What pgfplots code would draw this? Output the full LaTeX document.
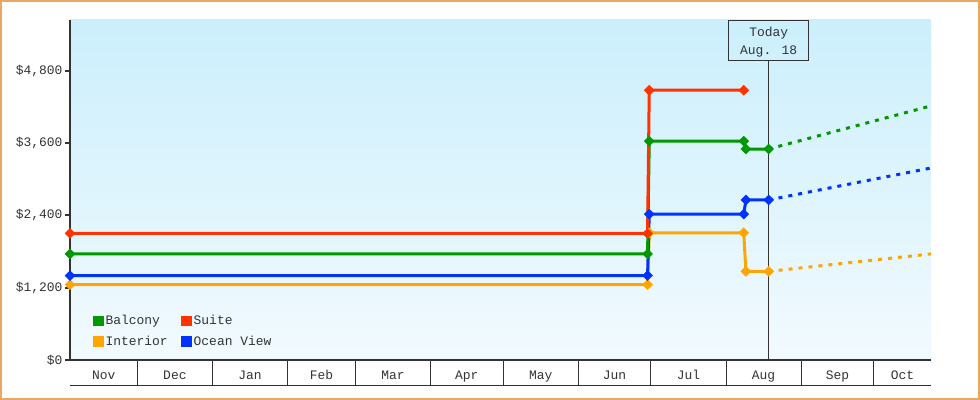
\documentclass[border=0pt]{standalone}
\usepackage{pgfplots}
\pgfplotsset{compat=1.18}
\usepackage{fontspec}
\setmainfont{Liberation Mono}
\definecolor{cgreen}{RGB}{0,153,0}
\definecolor{cred}{RGB}{255,51,0}
\definecolor{corange}{RGB}{255,165,0}
\definecolor{cblue}{RGB}{0,51,255}
\definecolor{txt}{RGB}{51,51,51}
\definecolor{framec}{RGB}{232,168,96}
\definecolor{bgtop}{RGB}{203,239,252}
\definecolor{bgbot}{RGB}{242,250,254}
\newcommand{\tf}{\fontsize{13}{18}\selectfont}
\begin{document}
\begin{tikzpicture}
\useasboundingbox (0,0) rectangle (980bp,400bp);
\draw[framec, line width=2bp] (1bp,1bp) rectangle (979bp,399bp);
\begin{axis}[
  at={(70bp,40bp)}, anchor=south west,
  scale only axis, width=861bp, height=340bp,
  xmin=2.2, xmax=357.6, ymin=0, ymax=5640,
  clip=false,
  axis background/.style={top color=bgtop, bottom color=bgbot},
  axis x line*=bottom, axis y line*=left,
  x axis line style={txt, line width=1.5bp},
  y axis line style={txt, line width=2.2bp},
  tick align=outside,
  major tick length=5bp, minor tick length=25bp,
  ytick={0,1200,2400,3600,4800},
  yticklabels={{\$0},{\$1,200},{\$2,400},{\$3,600},{\$4,800}},
  y tick style={txt, line width=2bp},
  xtick={16.1,45.5,76.5,106,135.5,166,196.5,227,257.5,288.5,319,345.8},
  xticklabels={Nov,Dec,Jan,Feb,Mar,Apr,May,Jun,Jul,Aug,Sep,Oct},
  minor xtick={30,61,92,120,151,181,212,242,273,304,334},
  major x tick style={draw=none},
  minor x tick style={txt, line width=1bp},
  ticklabel style={font=\tf, text=txt},
  yticklabel style={xshift=1bp},
  xticklabel style={text height=9bp, text depth=2.5bp, yshift=-1.5bp},
  legend columns=2,
  legend style={draw=none, fill=none, at={(0.0265,0.135)}, anchor=north west,
    font=\tf, text=txt, row sep=6bp, inner sep=0pt,
    nodes={inner sep=1.5bp, text height=9bp, text depth=2.5bp},
    /tikz/every even column/.append style={column sep=12bp}},
  legend cell align=left,
  every axis plot/.append style={line width=3bp},
]
\addlegendimage{legend image code/.code={\fill[cgreen, draw=none] (0bp,-4.5bp) rectangle (11bp,6bp);}}
\addlegendentry{Balcony}
\addlegendimage{legend image code/.code={\fill[cred, draw=none] (0bp,-4.5bp) rectangle (11bp,6bp);}}
\addlegendentry{Suite}
\addlegendimage{legend image code/.code={\fill[corange, draw=none] (0bp,-4.5bp) rectangle (11bp,6bp);}}
\addlegendentry{Interior}
\addlegendimage{legend image code/.code={\fill[cblue, draw=none] (0bp,-4.5bp) rectangle (11bp,6bp);}}
\addlegendentry{Ocean View}

% dashed projections
\addplot[corange, dash pattern=on 4bp off 6bp, forget plot] coordinates {(290.6,1470)(357.6,1760)};
\addplot[cblue, dash pattern=on 4bp off 6bp, forget plot] coordinates {(290.6,2655)(357.6,3185)};
\addplot[cgreen, dash pattern=on 4bp off 6bp, forget plot] coordinates {(290.6,3500)(357.6,4215)};

% price histories
\pgfplotsset{pm/.style={mark=square*, mark size=3.5bp, mark options={rotate=45, solid, line width=0.5bp}}}
\addplot[corange, pm, forget plot] coordinates {
  (2.2,1250)(240.6,1250)(241.3,2110)(280.3,2110)(281.2,1470)(290.6,1470)};
\addplot[cblue, pm, forget plot] coordinates {
  (2.2,1400)(240.6,1400)(241.3,2420)(280.3,2420)(281.2,2655)(290.6,2655)};
\addplot[cgreen, pm, forget plot] coordinates {
  (2.2,1760)(240.6,1760)(241.3,3630)(280.3,3630)(281.2,3500)(290.6,3500)};
\addplot[cred, pm, forget plot] coordinates {
  (2.2,2100)(240.6,2100)(241.3,4475)(280.3,4475)};

% today marker
\node[draw=txt, line width=1bp, minimum width=80bp, minimum height=40bp, anchor=north,
  inner sep=0pt] (today) at (axis cs:290.6,5640) {};
\node[align=center, font=\tf, text=txt, inner sep=0pt] at ([yshift=-1.5bp]today.center) {Today\\Aug. 18};
\draw[txt, line width=1bp] (today.south) -- (axis cs:290.6,0);
% month strip bottom line
\draw[txt, line width=1bp] ([yshift=-25bp]rel axis cs:0,0) -- ([yshift=-25bp]rel axis cs:1,0);
\end{axis}
\end{tikzpicture}
\end{document}
